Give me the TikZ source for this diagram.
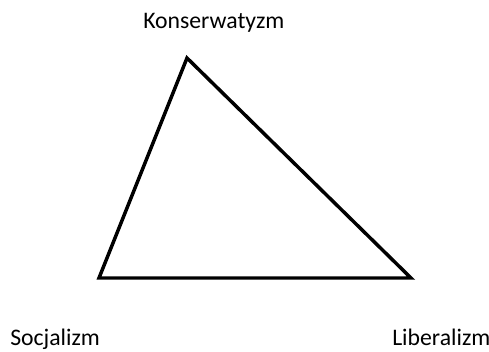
\documentclass[tikz,border=0pt]{standalone}
\usepackage{fontspec}
\setmainfont{Carlito}
\begin{document}
\begin{tikzpicture}[x=0.75pt,y=-0.75pt,
  lbl/.style={inner sep=0pt,font=\fontsize{17.8}{20}\selectfont},
  tri/.style={line width=2.6pt,line join=miter}]
\useasboundingbox (0,0) rectangle (489,352);
\coordinate (K) at (187,58);
\coordinate (S) at (99,278);
\coordinate (L) at (411,278);
\draw[tri] (K) -- (S) -- (L) -- cycle;
\node[lbl,anchor=base west] (tk) at (143,29) {Konserwatyzm};
\node[lbl,anchor=base west] (ts) at (10,346) {Socjalizm};
\node[lbl,anchor=base west] (tl) at (392,346) {Liberalizm};
\end{tikzpicture}
\end{document}
